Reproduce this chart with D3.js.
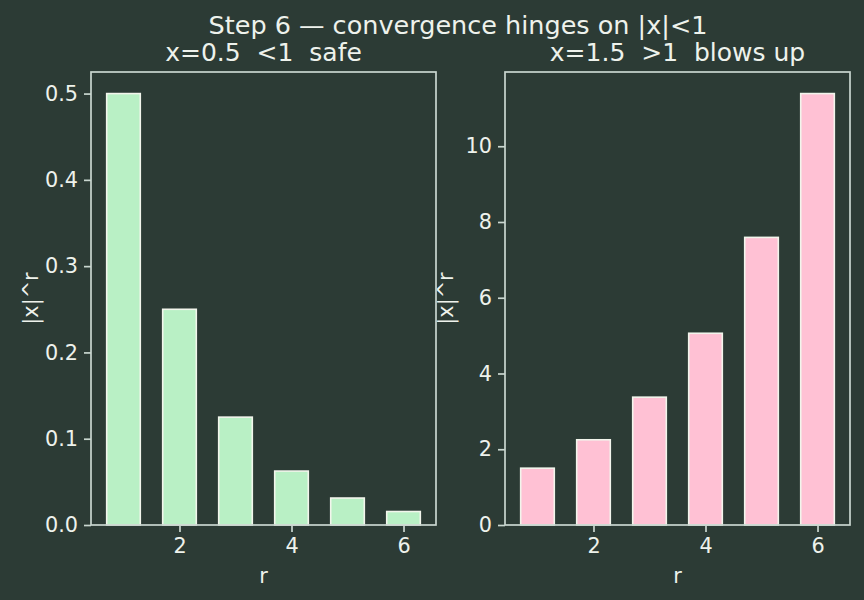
<!DOCTYPE html>
<html>
<head>
<meta charset="utf-8">
<script src="https://cdn.jsdelivr.net/npm/d3@7"></script>
<style>
  body { margin: 0; background: #2c3b35; }
  svg { display: block; font-family: 'DejaVu Sans', sans-serif; }
  text { white-space: pre; }
</style>
</head>
<body>
<svg id="chart" width="864" height="600"></svg>
<script>
const rValues = [1, 2, 3, 4, 5, 6];
const safeValues = [0.5, 0.25, 0.125, 0.0625, 0.03125, 0.015625];
const blowValues = [1.5, 2.25, 3.375, 5.0625, 7.59375, 11.390625];
const xTicks = [2, 4, 6];
const safeTicks = [0, 0.1, 0.2, 0.3, 0.4, 0.5];
const blowTicks = [0, 2, 4, 6, 8, 10];

const suptitle = 'Step 6 — convergence hinges on |x|<1';
const panels = [
  { title: 'x=0.5  <1  safe', values: safeValues, ticks: safeTicks, fmt: d3.format('.1f'), fill: '#b9f0c5', left: 91, right: 436, ylabelX: 37.5 },
  { title: 'x=1.5  >1  blows up', values: blowValues, ticks: blowTicks, fmt: d3.format('d'), fill: '#ffc1d4', left: 505, right: 850, ylabelX: 453 }
];

const textColor = '#eef2ec';
const spineColor = '#c9d6cf';
const edgeColor = '#f2f5ec';
const plotTop = 72, plotBottom = 525;
const tickFont = 20.8, titleFont = 25;

const svg = d3.select('#chart');

svg.append('text')
  .attr('x', 458)
  .attr('y', 34)
  .attr('text-anchor', 'middle')
  .attr('fill', textColor)
  .attr('font-size', 25.5)
  .text(suptitle);

panels.forEach((p) => {
  const x = d3.scaleLinear().domain([0.42, 6.58]).range([p.left, p.right]);
  const ymax = d3.max(p.values) * 1.05;
  const y = d3.scaleLinear().domain([0, ymax]).range([plotBottom, plotTop]);
  const g = svg.append('g');
  const barW = x(0.6) - x(0);

  g.selectAll('rect.bar')
    .data(p.values)
    .join('rect')
    .attr('class', 'bar')
    .attr('x', (d, i) => x(rValues[i]) - barW / 2)
    .attr('y', (d) => y(d))
    .attr('width', barW)
    .attr('height', (d) => y(0) - y(d))
    .attr('fill', p.fill)
    .attr('stroke', edgeColor)
    .attr('stroke-width', 1.6);

  // frame
  g.append('rect')
    .attr('x', p.left)
    .attr('y', plotTop)
    .attr('width', p.right - p.left)
    .attr('height', plotBottom - plotTop)
    .attr('fill', 'none')
    .attr('stroke', spineColor)
    .attr('stroke-width', 1.7);

  g.append('g')
    .attr('transform', `translate(0,${plotBottom})`)
    .call(d3.axisBottom(x).tickValues(xTicks).tickSize(7).tickPadding(6).tickFormat(d3.format('d')))
    .call((a) => a.select('.domain').remove())
    .call((a) => a.selectAll('line').attr('stroke', spineColor).attr('stroke-width', 1.7))
    .call((a) => a.selectAll('text').attr('fill', textColor).attr('font-size', tickFont).attr('font-family', 'DejaVu Sans'));

  g.append('g')
    .attr('transform', `translate(${p.left},0)`)
    .call(d3.axisLeft(y).tickValues(p.ticks).tickSize(7).tickPadding(6).tickFormat(p.fmt))
    .call((a) => a.select('.domain').remove())
    .call((a) => a.selectAll('line').attr('stroke', spineColor).attr('stroke-width', 1.7))
    .call((a) => a.selectAll('text').attr('fill', textColor).attr('font-size', tickFont).attr('font-family', 'DejaVu Sans'));

  g.append('text')
    .attr('x', (p.left + p.right) / 2)
    .attr('y', 61)
    .attr('text-anchor', 'middle')
    .attr('fill', textColor)
    .attr('font-size', titleFont)
    .text(p.title);

  g.append('text')
    .attr('x', (p.left + p.right) / 2)
    .attr('y', 583)
    .attr('text-anchor', 'middle')
    .attr('fill', textColor)
    .attr('font-size', tickFont)
    .text('r');

  g.append('text')
    .attr('transform', `translate(${p.ylabelX},${(plotTop + plotBottom) / 2}) rotate(-90)`)
    .attr('text-anchor', 'middle')
    .attr('fill', textColor)
    .attr('font-size', tickFont)
    .text('|x|^r');
});
</script>
</body>
</html>
